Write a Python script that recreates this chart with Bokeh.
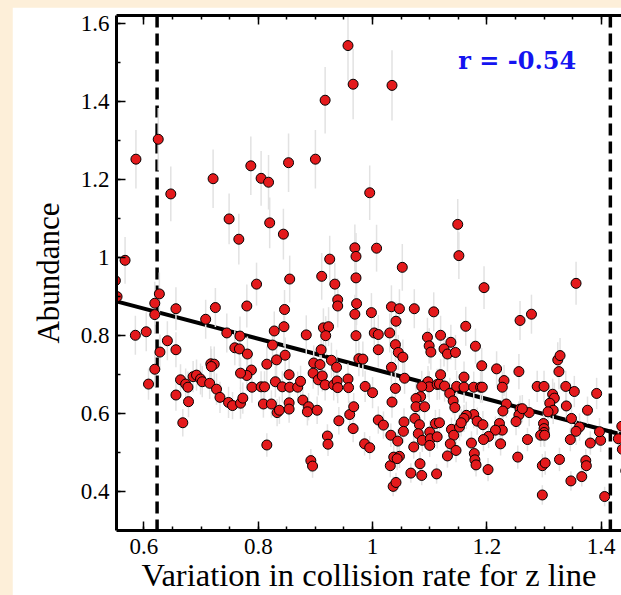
from bokeh.plotting import figure
from bokeh.models import (ColumnDataSource, LinearAxis, SingleIntervalTicker, Span,
                          Slope, Label, Range1d, CustomJSTickFormatter)
from bokeh.embed import file_html
from bokeh.resources import INLINE

# ---- data ----
x_top = [0.957, 0.966, 0.917, 0.625, 0.586, 0.787, 0.853, 0.900, 0.721, 0.805,
         0.818, 0.647, 0.995, 0.749, 0.820, 0.766, 0.844, 0.567, 0.925, 0.969,
         0.971, 0.550, 0.797, 0.855, 0.911, 0.934, 0.971, 1.034, 1.149, 1.007,
         1.151, 1.052, 1.195, 1.356]
y_top = [1.543, 1.444, 1.403, 1.303, 1.252, 1.235, 1.243, 1.252, 1.202, 1.203,
         1.193, 1.163, 1.166, 1.099, 1.089, 1.047, 1.060, 0.993, 0.996, 1.025,
         1.003, 0.941, 0.932, 0.945, 0.952, 0.932, 0.948, 1.441, 1.085, 1.024,
         1.005, 0.975, 0.923, 0.934]
e_top = [0.09, 0.09, 0.085, 0.08, 0.075, 0.075, 0.075, 0.075, 0.075, 0.07,
         0.07, 0.07, 0.07, 0.065, 0.065, 0.065, 0.065, 0.06, 0.06, 0.06,
         0.06, 0.06, 0.055, 0.06, 0.06, 0.055, 0.06, 0.09, 0.065, 0.06,
         0.06, 0.06, 0.055, 0.055]

x_left = [0.553, 0.619, 0.627, 0.619, 0.656, 0.725, 0.780, 0.846, 0.708, 0.585,
          0.604, 0.745, 0.768, 0.828, 0.845, 0.641, 0.656, 0.628, 0.759, 0.767,
          0.781, 0.825, 0.847, 0.832, 0.619, 0.608, 0.717, 0.723, 0.718, 0.788,
          0.780, 0.769, 0.815, 0.830, 0.854, 0.664, 0.673, 0.677, 0.686, 0.692,
          0.699, 0.702, 0.715, 0.727, 0.789, 0.805, 0.811, 0.842, 0.656, 0.678,
          0.733, 0.748, 0.755, 0.769, 0.773, 0.809, 0.823, 0.833, 0.837, 0.668,
          0.815]
y_left = [0.900, 0.883, 0.907, 0.854, 0.869, 0.872, 0.876, 0.867, 0.842, 0.801,
          0.810, 0.807, 0.799, 0.812, 0.823, 0.787, 0.764, 0.758, 0.769, 0.766,
          0.753, 0.776, 0.750, 0.738, 0.714, 0.676, 0.728, 0.727, 0.721, 0.712,
          0.698, 0.704, 0.727, 0.682, 0.700, 0.687, 0.676, 0.668, 0.695, 0.699,
          0.689, 0.682, 0.678, 0.663, 0.668, 0.669, 0.669, 0.669, 0.648, 0.631,
          0.642, 0.629, 0.621, 0.627, 0.640, 0.625, 0.625, 0.603, 0.609, 0.577,
          0.520]
e_left = [0.055, 0.055, 0.055, 0.05, 0.055, 0.05, 0.055, 0.05, 0.05, 0.05,
          0.05, 0.05, 0.05, 0.05, 0.05, 0.05, 0.045, 0.045, 0.045, 0.045,
          0.045, 0.045, 0.045, 0.045, 0.045, 0.04, 0.045, 0.045, 0.045, 0.045,
          0.04, 0.04, 0.045, 0.04, 0.04, 0.04, 0.04, 0.04, 0.04, 0.04,
          0.04, 0.04, 0.04, 0.04, 0.04, 0.04, 0.04, 0.04, 0.04, 0.04,
          0.04, 0.04, 0.035, 0.04, 0.04, 0.035, 0.035, 0.035, 0.035, 0.035,
          0.03]

x_mid = [0.939, 0.939, 0.972, 0.969, 0.998, 1.033, 1.047, 1.073, 1.107, 1.041,
         0.884, 0.914, 0.923, 0.918, 0.971, 1.003, 1.010, 1.030, 1.010, 1.040,
         1.045, 1.053, 1.096, 1.099, 1.102, 1.119, 1.137, 1.125, 1.131, 1.145,
         0.910, 0.897, 0.908, 0.928, 0.937, 0.976, 0.983, 1.033, 1.056, 0.855,
         0.869, 0.874, 0.896, 0.905, 0.912, 0.917, 0.932, 0.938, 0.939, 0.957,
         0.958, 0.987, 1.000, 1.040, 1.034, 1.097, 1.099, 1.113, 1.117, 1.119,
         1.086, 1.084, 1.076, 1.076, 1.091, 1.126, 1.135, 1.141, 1.144, 1.147,
         0.854, 0.854, 0.878, 0.888, 0.886, 0.903, 0.941, 0.960, 0.967, 0.966,
         0.921, 0.922, 0.986, 0.995, 1.010, 1.019, 1.032, 1.044, 1.055, 1.054,
         1.074, 1.082, 1.080, 1.087, 1.072, 1.100, 1.101, 1.100, 1.110, 1.117,
         1.113, 1.138, 1.142, 1.136, 1.146, 1.131, 1.152, 0.892, 0.895, 1.031,
         1.037, 1.047, 1.043, 1.083, 1.086, 1.067, 1.112, 1.036, 1.041]
y_mid = [0.892, 0.876, 0.882, 0.855, 0.859, 0.874, 0.869, 0.869, 0.861, 0.837,
         0.802, 0.820, 0.823, 0.800, 0.800, 0.807, 0.803, 0.807, 0.764, 0.777,
         0.757, 0.745, 0.796, 0.774, 0.758, 0.801, 0.783, 0.766, 0.753, 0.757,
         0.764, 0.730, 0.726, 0.737, 0.719, 0.741, 0.740, 0.719, 0.691, 0.668,
         0.668, 0.683, 0.704, 0.687, 0.697, 0.674, 0.674, 0.684, 0.667, 0.689,
         0.667, 0.670, 0.654, 0.665, 0.630, 0.682, 0.669, 0.675, 0.676, 0.700,
         0.670, 0.644, 0.639, 0.618, 0.618, 0.671, 0.652, 0.633, 0.616, 0.670,
         0.628, 0.612, 0.635, 0.618, 0.605, 0.609, 0.582, 0.598, 0.618, 0.562,
         0.543, 0.522, 0.523, 0.513, 0.584, 0.571, 0.545, 0.530, 0.579, 0.555,
         0.588, 0.572, 0.549, 0.532, 0.515, 0.553, 0.536, 0.519, 0.575, 0.577,
         0.541, 0.560, 0.545, 0.523, 0.506, 0.492, 0.566, 0.480, 0.466, 0.467,
         0.489, 0.491, 0.485, 0.472, 0.442, 0.448, 0.446, 0.414, 0.424]
e_mid = [0.055, 0.055, 0.055, 0.05, 0.05, 0.055, 0.05, 0.05, 0.05, 0.05,
         0.05, 0.05, 0.05, 0.05, 0.05, 0.05, 0.05, 0.05, 0.045, 0.045,
         0.045, 0.045, 0.05, 0.045, 0.045, 0.05, 0.045, 0.045, 0.045, 0.045,
         0.045, 0.045, 0.045, 0.045, 0.045, 0.045, 0.045, 0.045, 0.04, 0.04,
         0.04, 0.04, 0.04, 0.04, 0.04, 0.04, 0.04, 0.04, 0.04, 0.04,
         0.04, 0.04, 0.04, 0.04, 0.04, 0.04, 0.04, 0.04, 0.04, 0.04,
         0.04, 0.04, 0.04, 0.035, 0.035, 0.04, 0.04, 0.035, 0.035, 0.04,
         0.035, 0.035, 0.035, 0.035, 0.035, 0.035, 0.035, 0.035, 0.035, 0.035,
         0.03, 0.03, 0.03, 0.03, 0.035, 0.035, 0.03, 0.03, 0.035, 0.03,
         0.035, 0.035, 0.03, 0.03, 0.03, 0.03, 0.03, 0.03, 0.035, 0.035,
         0.03, 0.03, 0.03, 0.03, 0.03, 0.03, 0.035, 0.03, 0.03, 0.03,
         0.03, 0.03, 0.03, 0.03, 0.025, 0.025, 0.025, 0.025, 0.025]

x_right = [1.163, 1.258, 1.278, 1.180, 1.191, 1.217, 1.256, 1.324, 1.328, 1.326,
           1.160, 1.160, 1.177, 1.189, 1.192, 1.230, 1.227, 1.288, 1.300, 1.338,
           1.353, 1.392, 1.315, 1.318, 1.310, 1.316, 1.307, 1.339, 1.376, 1.234,
           1.228, 1.258, 1.256, 1.251, 1.274, 1.262, 1.348, 1.362, 1.356, 1.346,
           1.299, 1.300, 1.300, 1.294, 1.301, 1.222, 1.227, 1.215, 1.203, 1.194,
           1.177, 1.183, 1.193, 1.164, 1.160, 1.155, 1.224, 1.271, 1.173, 1.178,
           1.179, 1.181, 1.202, 1.254, 1.297, 1.302, 1.327, 1.373, 1.374, 1.347,
           1.366, 1.297, 1.406, 1.381, 1.399, 1.397, 1.436, 1.430, 1.437, 1.443]
y_right = [0.824, 0.839, 0.855, 0.773, 0.723, 0.715, 0.708, 0.738, 0.749, 0.708,
           0.694, 0.668, 0.668, 0.668, 0.668, 0.685, 0.668, 0.670, 0.670, 0.670,
           0.657, 0.652, 0.650, 0.640, 0.627, 0.609, 0.605, 0.620, 0.609, 0.625,
           0.607, 0.612, 0.597, 0.580, 0.603, 0.613, 0.588, 0.566, 0.555, 0.534,
           0.575, 0.562, 0.552, 0.545, 0.545, 0.575, 0.558, 0.558, 0.542, 0.534,
           0.598, 0.581, 0.572, 0.596, 0.588, 0.577, 0.523, 0.534, 0.525, 0.498,
           0.482, 0.469, 0.457, 0.489, 0.467, 0.474, 0.483, 0.480, 0.467, 0.428,
           0.439, 0.392, 0.388, 0.525, 0.532, 0.554, 0.568, 0.536, 0.509, 0.454]
e_right = [0.05, 0.05, 0.05, 0.045, 0.045, 0.045, 0.045, 0.045, 0.045, 0.045,
           0.04, 0.04, 0.04, 0.04, 0.04, 0.04, 0.04, 0.04, 0.04, 0.04,
           0.04, 0.04, 0.04, 0.04, 0.04, 0.035, 0.035, 0.035, 0.035, 0.035,
           0.035, 0.035, 0.035, 0.035, 0.035, 0.035, 0.035, 0.035, 0.035, 0.03,
           0.035, 0.035, 0.035, 0.03, 0.03, 0.035, 0.035, 0.035, 0.03, 0.03,
           0.035, 0.035, 0.035, 0.035, 0.035, 0.035, 0.03, 0.03, 0.03, 0.03,
           0.03, 0.03, 0.03, 0.03, 0.03, 0.03, 0.03, 0.03, 0.03, 0.025,
           0.025, 0.025, 0.025, 0.03, 0.03, 0.035, 0.035, 0.03, 0.03, 0.03]

fit_slope = -0.386
fit_intercept = 1.101
limit_lines = [0.623, 1.416]
r_text = "r = -0.54"

# ---- assemble ----
x_vals = x_top + x_left + x_mid + x_right
y_vals = y_top + y_left + y_mid + y_right
y_err = e_top + e_left + e_mid + e_right
src = ColumnDataSource(dict(
    x=x_vals, y=y_vals,
    lo=[y - e for y, e in zip(y_vals, y_err)],
    hi=[y + e for y, e in zip(y_vals, y_err)],
))

SERIF = "Liberation Serif"

p = figure(width=609, height=588, output_backend="svg", toolbar_location=None,
           x_range=Range1d(0.552, 1.4355), y_range=Range1d(0.301, 1.62),
           min_border_left=104, min_border_right=0, min_border_top=8,
           min_border_bottom=40,
           background_fill_color="white", border_fill_color="white",
           outline_line_color=None)
p.margin = (7, 0, 0, 12)
p.grid.visible = False

bottom = p.xaxis[0]
left = p.yaxis[0]

fmt = CustomJSTickFormatter(code="return Number(tick.toFixed(2)).toString();")

bottom.ticker = SingleIntervalTicker(interval=0.2, num_minor_ticks=4)
left.ticker = SingleIntervalTicker(interval=0.2, num_minor_ticks=2)
bottom.formatter = fmt
left.formatter = fmt
bottom.axis_label = "Variation in collision rate for z line"
left.axis_label = "Abundance"

top = LinearAxis(ticker=SingleIntervalTicker(interval=0.2, num_minor_ticks=4),
                 formatter=CustomJSTickFormatter(code="return '';"),
                 major_label_text_font_size="1px", major_label_standoff=0)
p.add_layout(top, "above")

for ax in [bottom, left, top]:
    ax.axis_line_width = 3
    ax.axis_line_color = "black"
    ax.major_tick_in = 9
    ax.major_tick_out = 0
    ax.minor_tick_in = 4
    ax.minor_tick_out = 0
    ax.major_tick_line_width = 1.5
    ax.minor_tick_line_width = 1.5
    ax.major_tick_line_color = "black"
    ax.minor_tick_line_color = "black"
    ax.major_label_text_font = SERIF
    ax.major_label_text_color = "black"
    ax.axis_label_text_font = SERIF
    ax.axis_label_text_font_style = "normal"
    ax.axis_label_text_color = "black"

bottom.axis_label_text_font_size = "32.5px"
left.axis_label_text_font_size = "31px"
bottom.major_label_text_font_size = "23px"
left.major_label_text_font_size = "23px"
bottom.major_label_standoff = 8
left.major_label_standoff = 7
bottom.axis_label_standoff = 0
left.axis_label_standoff = 12

for loc in limit_lines:
    p.add_layout(Span(location=loc, dimension="height", line_color="black",
                      line_width=3.5, line_dash="12 6", level="underlay"))

p.add_layout(Slope(gradient=fit_slope, y_intercept=fit_intercept,
                   line_color="black", line_width=4, level="underlay"))

p.segment(x0="x", y0="lo", x1="x", y1="hi", source=src,
          line_color="#e2e2e2", line_width=1.5)
p.scatter(x="x", y="y", source=src, size=10, marker="circle",
          fill_color="#e41a1c", line_color="black", line_width=1)

p.add_layout(Label(x=1.15, y=1.504, text=r_text, text_font="DejaVu Serif",
                   text_font_style="bold", text_font_size="24px",
                   text_color="#1414f0", text_baseline="alphabetic"))

html = file_html(p, INLINE, title="chart")
html = html.replace("</head>",
                    "<style>html, body { background-color: #fdefd9 !important; }</style></head>", 1)
open("out.html", "w").write(html)
